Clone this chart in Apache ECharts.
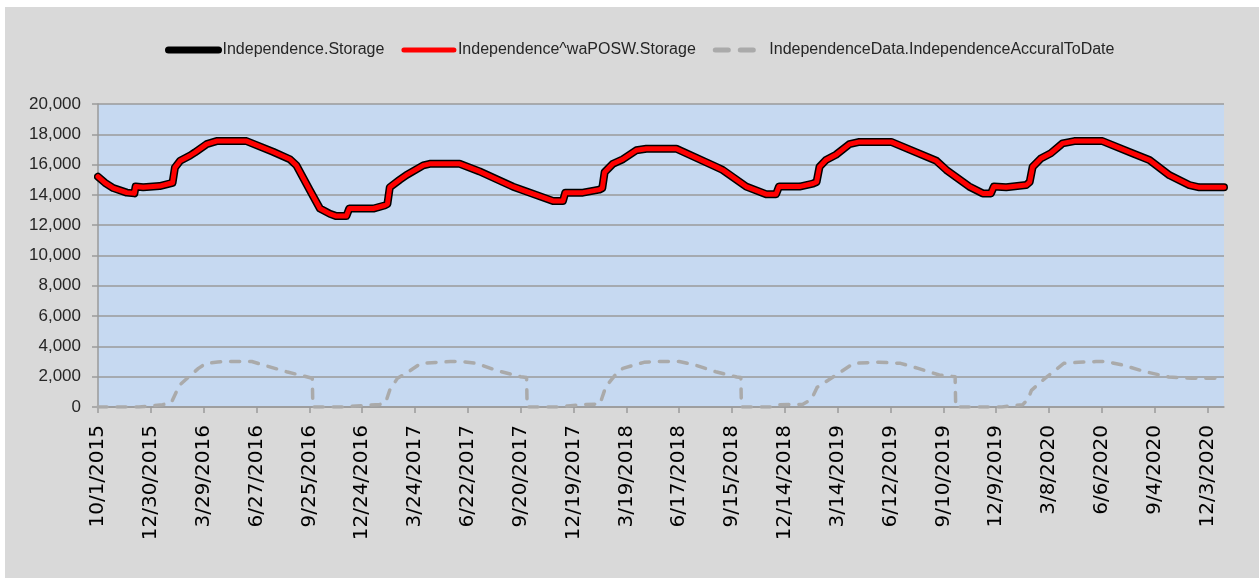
<!DOCTYPE html>
<html>
<head>
<meta charset="utf-8">
<script src="https://cdn.jsdelivr.net/npm/echarts@6/dist/echarts.min.js"></script>
<style>
  html, body { margin: 0; padding: 0; background: #ffffff; }
  #chart { position: absolute; left: 5px; top: 7px; width: 1254px; height: 571px; }
</style>
</head>
<body>
<div id="chart"></div>
<script>
// Day offsets from 10/1/2015 and values
const startDate = Date.UTC(2015, 9, 1);
const lastDay = 1918;
const tickStep = 90;

const seriesNames = ['Independence.Storage', 'Independence^waPOSW.Storage', 'IndependenceData.IndependenceAccuralToDate'];

const storageDays = [0, 12, 26, 49, 62, 64, 77, 105, 122, 127, 131, 140, 157, 165, 185, 202, 253, 298, 327, 338, 361, 378, 395, 406, 423, 428, 469, 488, 493, 497, 514, 525, 554, 565, 616, 650, 707, 724, 775, 792, 796, 826, 854, 859, 863, 877, 894, 917, 934, 985, 1053, 1064, 1104, 1138, 1155, 1160, 1195, 1218, 1224, 1229, 1240, 1257, 1280, 1297, 1351, 1428, 1445, 1484, 1507, 1521, 1526, 1547, 1581, 1587, 1592, 1606, 1623, 1643, 1663, 1711, 1762, 1791, 1825, 1859, 1876, 1918];
const storageValues = [15200, 14800, 14450, 14150, 14100, 14550, 14500, 14580, 14750, 14800, 15800, 16250, 16600, 16800, 17350, 17550, 17550, 16850, 16350, 15950, 14300, 13100, 12750, 12600, 12600, 13100, 13100, 13300, 13400, 14500, 15000, 15300, 15950, 16050, 16050, 15550, 14540, 14300, 13600, 13600, 14150, 14150, 14350, 14450, 15500, 16050, 16350, 16950, 17050, 17050, 15850, 15650, 14550, 14050, 14050, 14550, 14550, 14750, 14850, 15850, 16300, 16650, 17350, 17500, 17500, 16250, 15650, 14550, 14100, 14100, 14550, 14500, 14650, 14850, 15850, 16400, 16750, 17400, 17550, 17550, 16750, 16300, 15300, 14650, 14500, 14500];
const waStorageValues = storageValues.slice(); // identical to Independence.Storage in the picture

const accrualDays = [0, 70, 90, 110, 125, 139, 171, 184, 204, 215, 262, 282, 321, 365, 366,
  420, 440, 480, 490, 497, 510, 529, 550, 600, 620, 645, 680, 720, 730, 731,
  790, 800, 830, 855, 865, 881, 894, 930, 950, 990, 1017, 1052, 1088, 1095, 1096,
  1150, 1160, 1200, 1215, 1225, 1252, 1287, 1330, 1367, 1397, 1433, 1460, 1461,
  1540, 1553, 1575, 1584, 1590, 1613, 1645, 1670, 1700, 1717, 1745, 1784, 1824, 1863, 1918];
const accrualValues = [0, 0, 80, 150, 300, 1450, 2550, 2880, 2970, 3000, 3000, 2770, 2330, 1900, 0,
  0, 70, 170, 300, 1120, 1890, 2330, 2880, 3000, 3000, 2880, 2400, 2000, 1950, 0,
  0, 70, 170, 200, 1340, 2110, 2550, 2950, 3000, 3000, 2770, 2330, 1980, 1950, 0,
  0, 150, 170, 500, 1300, 1980, 2880, 2960, 2880, 2550, 2110, 2000, 0,
  0, 70, 150, 500, 1100, 1890, 2880, 2950, 3000, 3000, 2770, 2330, 1980, 1890, 1890];

const yMin = 0, yMax = 20000, yStep = 2000;

function pairs(xs, ys) { return xs.map((x, i) => [x, ys[i]]); }
function dayLabel(v) {
  const d = new Date(startDate + v * 86400000);
  return (d.getUTCMonth() + 1) + '/' + d.getUTCDate() + '/' + d.getUTCFullYear();
}
const tickValues = [];
for (let v = 0; v <= lastDay; v += tickStep) tickValues.push(v);

const narrowFont = '"Liberation Sans Narrow", "Liberation Sans", Arial, sans-serif';
const noSymbol = { color: 'rgba(0,0,0,0)', borderWidth: 0, opacity: 0 };

const chart = echarts.init(document.getElementById('chart'));
chart.setOption({
  animation: false,
  backgroundColor: '#d9d9d9',
  legend: {
    left: 155, top: 30,
    itemWidth: 50, itemHeight: 14, itemGap: 17,
    textStyle: { fontFamily: narrowFont, fontSize: 16, color: '#262626', padding: [0, 0, 0, -1] },
    itemStyle: noSymbol,
    data: [
      { name: seriesNames[0], itemStyle: noSymbol, lineStyle: { color: '#000000', width: 7, cap: 'round' } },
      { name: seriesNames[1], itemStyle: noSymbol, lineStyle: { color: '#ff0000', width: 5, cap: 'round' } },
      { name: seriesNames[2], itemStyle: noSymbol, lineStyle: { color: '#aaaaaa', width: 5, type: [13, 12], cap: 'round' } }
    ]
  },
  grid: {
    left: 93, right: 35, top: 97, bottom: 171,
    show: true, backgroundColor: '#c6d9f1', borderWidth: 0
  },
  xAxis: {
    type: 'value', min: 0, max: lastDay, interval: tickStep,
    axisLine: { show: true, onZero: false, lineStyle: { color: '#9a9a9a', width: 1.5 } },
    axisTick: { show: true, length: 6, lineStyle: { color: '#9a9a9a', width: 1.5 }, customValues: tickValues },
    axisLabel: {
      rotate: 90, margin: 18, color: '#000000', fontFamily: '"DejaVu Sans", sans-serif', fontSize: 20,
      customValues: tickValues, formatter: dayLabel
    },
    splitLine: { show: false }
  },
  yAxis: {
    type: 'value', min: yMin, max: yMax, interval: yStep,
    axisLine: { show: true, lineStyle: { color: '#9a9a9a', width: 1.5 } },
    axisTick: { show: true, length: 6, lineStyle: { color: '#9a9a9a', width: 1.5 } },
    axisLabel: {
      margin: 17, color: '#262626', fontFamily: narrowFont, fontSize: 17,
      formatter: v => v.toLocaleString('en-US')
    },
    splitLine: { show: true, lineStyle: { color: '#9a9a9a', width: 1.5 } }
  },
  series: [
    {
      name: seriesNames[0], type: 'line', symbol: 'none', z: 3,
      data: pairs(storageDays, storageValues),
      lineStyle: { color: '#000000', width: 8, cap: 'round', join: 'round' },
      itemStyle: { color: '#000000' }
    },
    {
      name: seriesNames[1], type: 'line', symbol: 'none', z: 4,
      data: pairs(storageDays, waStorageValues),
      lineStyle: { color: '#ff0000', width: 5, cap: 'round', join: 'round' },
      itemStyle: { color: '#ff0000' }
    },
    {
      name: seriesNames[2], type: 'line', symbol: 'none', z: 2,
      data: pairs(accrualDays, accrualValues),
      lineStyle: { color: '#aaaaaa', width: 3.5, type: [9, 10], cap: 'round', join: 'round' },
      itemStyle: { color: '#aaaaaa' }
    }
  ]
});
</script>
</body>
</html>
